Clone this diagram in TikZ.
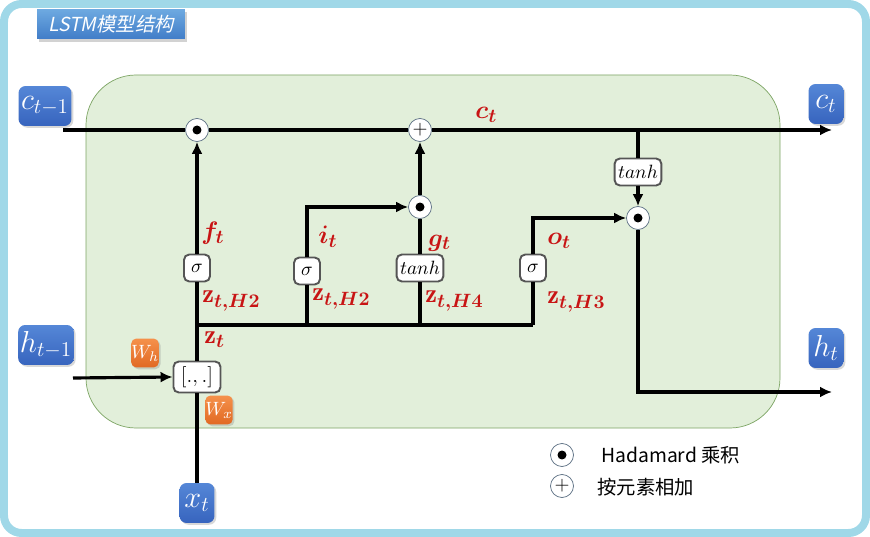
\documentclass[tikz,border=0pt]{standalone}
\usepackage{amsmath,bm}
\usepackage{fontspec}
\newfontfamily\cjk{Noto Sans CJK SC}
\newfontfamily\cjkit[FakeSlant=0.2]{Noto Sans CJK SC}
\definecolor{FrameBlue} {RGB}{160,216,232}
\definecolor{CellGreen} {RGB}{226,239,218}
\definecolor{CellEdge}  {RGB}{125,165,100}
\definecolor{BoxBlue}   {RGB}{55,100,190}
\definecolor{BoxBlueTop}{RGB}{85,135,215}
\definecolor{TitleTop}  {RGB}{110,170,225}
\definecolor{TitleBot}  {RGB}{65,125,200}
\definecolor{WOrange}   {RGB}{225,105,35}
\definecolor{WOrangeTop}{RGB}{245,145,75}
\definecolor{LabelRed}  {RGB}{200,20,20}
\definecolor{GateEdge}  {RGB}{85,85,85}
\definecolor{OpEdge}    {RGB}{90,110,130}
\usetikzlibrary{arrows.meta,positioning,calc,shadows}

\begin{document}
\begin{tikzpicture}[x=0.02cm,y=-0.02cm,
  wire/.style={line width=1.8pt},
  arr/.style={line width=1.8pt,-{Latex[length=2.4mm,width=2.2mm]}},
  io/.style={rounded corners=4pt,top color=BoxBlueTop,bottom color=BoxBlue,
    text=white,inner sep=1pt,minimum height=0.8cm,
    drop shadow={shadow xshift=1pt,shadow yshift=-1pt,opacity=0.3},
    font=\fontsize{17}{20}\selectfont},
  wbox/.style={rounded corners=3pt,top color=WOrangeTop,bottom color=WOrange,
    text=white,minimum width=0.54cm,minimum height=0.58cm,inner sep=0pt,
    drop shadow={shadow xshift=1pt,shadow yshift=-1pt,opacity=0.3},
    font=\fontsize{11}{13}\selectfont},
  gate/.style={draw=GateEdge,line width=1.1pt,fill=white,rounded corners=3pt,
    inner sep=2pt,minimum height=0.54cm,minimum width=0.52cm,
    font=\fontsize{11}{13}\selectfont},
  hada/.style={circle,draw=OpEdge,fill=white,minimum size=0.46cm,inner sep=0pt,
    path picture={\fill[black] (path picture bounding box.center) circle (0.09cm);}},
  addop/.style={circle,draw=OpEdge,fill=white,minimum size=0.46cm,inner sep=0pt,
    font=\fontsize{11}{11}\selectfont},
  lbl/.style={text=LabelRed,anchor=west,inner sep=0pt,font=\fontsize{15}{17}\selectfont},
  legend/.style={anchor=west,inner sep=0pt,font=\cjk\fontsize{11}{13}\selectfont}]
  \useasboundingbox (0,0) rectangle (870,537);
  \draw[FrameBlue,line width=0.16cm,rounded corners=0.35cm,fill=white]
    (4,4) rectangle (866,533);
  \node[top color=TitleTop,bottom color=TitleBot,text=white,
        minimum width=2.96cm,minimum height=0.6cm,
        drop shadow={shadow xshift=1pt,shadow yshift=-1.5pt,opacity=0.35},
        font=\cjkit\fontsize{11}{13}\selectfont] (T) at (111,24) {LSTM模型结构};
  \draw[draw=CellEdge,fill=CellGreen,rounded corners=1cm] (86,75) rectangle (780,428);

  \node[io,minimum width=1.06cm] (C0) at (45,106) {$c_{t-1}$};
  \node[io,minimum width=1.06cm] (H0) at (46,345) {$h_{t-1}$};
  \node[io,minimum width=0.7cm] (C1) at (826,104) {$c_t$};
  \node[io,minimum width=0.7cm] (H1) at (826,348) {$h_t$};
  \node[io,minimum width=0.7cm] (X) at (197,503) {$x_t$};

  \node[gate,minimum width=0.94cm,minimum height=0.62cm,
        font=\fontsize{12}{14}\selectfont] (cat) at (197,377) {$[.,.]$};
  \node[wbox] (Wh) at (145,353) {$W_h$};
  \node[wbox] (Wx) at (219,410) {$W_x$};

  \node[gate] (sf) at (197,268) {$\sigma$};
  \node[gate] (si) at (307,271) {$\sigma$};
  \node[gate] (tg) at (420,268) {$tanh$};
  \node[gate] (so) at (533,268) {$\sigma$};
  \node[gate] (tc) at (638,172) {$tanh$};

  \node[hada] (mf) at (197,130) {};
  \node[addop] (ac) at (420,130) {$+$};
  \node[hada] (mi) at (420,207) {};
  \node[hada] (mo) at (638,218) {};

  \coordinate (cin) at (63,130);
  \coordinate (cout) at (832,130);
  \coordinate (hin) at (73,378);
  \coordinate (hout) at (832,392);
  \coordinate (jz) at (197,325);
  \coordinate (ji) at (307,325);
  \coordinate (jg) at (420,325);
  \coordinate (jo) at (533,325);
  \coordinate (kc) at (638,130);

  \draw[wire] (cin) -- (mf.west);
  \draw[wire] (mf.east) -- (ac.west);
  \draw[arr] (ac.east) -- (cout);
  \draw[arr] (hin) -- (cat.west);
  \draw[wire] (X.north) -- (cat.south);
  \draw[wire] (cat.north) -- (sf.south);
  \draw[arr] (sf.north) -- (mf.south);
  \draw[wire] (jz) -- (jo);
  \draw[wire] (ji) -- (si.south);
  \draw[arr] (si.north) |- (mi.west);
  \draw[wire] (jg) -- (tg.south);
  \draw[wire] (tg.north) -- (mi.south);
  \draw[arr] (mi.north) -- (ac.south);
  \draw[wire] (jo) -- (so.south);
  \draw[arr] (so.north) |- (mo.west);
  \draw[wire] (kc) -- (tc.north);
  \draw[arr] (tc.south) -- (mo.north);
  \draw[arr] (mo.south) |- (hout);

  \node[lbl] (lc) at (475,115) {$\bm{c_t}$};
  \node[lbl] (lf) at (201,233) {$\bm{f_t}$};
  \node[lbl] (li) at (318,237) {$\bm{i_t}$};
  \node[lbl] (lg) at (428,243) {$\bm{g_t}$};
  \node[lbl] (lo) at (547,241) {$\bm{o_t}$};
  \node[lbl] (lz1) at (202,301) {$\mathbf{z}_{\bm{t,H2}}$};
  \node[lbl] (lz2) at (312,299) {$\mathbf{z}_{\bm{t,H2}}$};
  \node[lbl] (lz3) at (425,301) {$\mathbf{z}_{\bm{t,H4}}$};
  \node[lbl] (lz4) at (547,302) {$\mathbf{z}_{\bm{t,H3}}$};
  \node[lbl] (lz0) at (204,340) {$\mathbf{z}_{\bm{t}}$};

  \node[hada] (lgm) at (562,455) {};
  \node[addop] (lga) at (562,486) {$+$};
  \node[legend] (lgmt) at (601,455) {Hadamard 乘积};
  \node[legend] (lgat) at (597,487) {按元素相加};
\end{tikzpicture}
\end{document}
